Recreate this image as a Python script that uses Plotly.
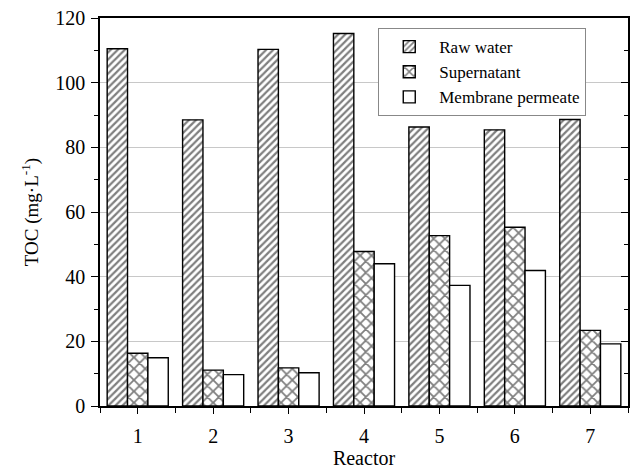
import plotly.graph_objects as go

reactors = [1, 2, 3, 4, 5, 6, 7]
raw_water = [110.5, 88.5, 110.3, 115.2, 86.3, 85.4, 88.6]
supernatant = [16.3, 11.1, 11.8, 47.8, 52.7, 55.3, 23.4]
membrane_permeate = [14.9, 9.7, 10.3, 44.0, 37.3, 41.9, 19.2]

font_family = "Liberation Serif"

fig = go.Figure()
fig.add_trace(go.Bar(
    x=reactors, y=raw_water, name="Raw water",
    marker=dict(color="white", line=dict(color="black", width=1.4),
                pattern=dict(shape="/", fgcolor="black", bgcolor="white", size=5, solidity=0.45)),
))
fig.add_trace(go.Bar(
    x=reactors, y=supernatant, name="Supernatant",
    marker=dict(color="white", line=dict(color="black", width=1.4),
                pattern=dict(shape="x", fgcolor="black", bgcolor="white", size=8, solidity=0.4)),
))
fig.add_trace(go.Bar(
    x=reactors, y=membrane_permeate, name="Membrane permeate",
    marker=dict(color="white", line=dict(color="black", width=1.4)),
))
# invisible trace on the right axis for inward mirror ticks
fig.add_trace(go.Scatter(x=[reactors[0]], y=[raw_water[0]], yaxis="y2",
                         mode="markers", marker=dict(opacity=0), showlegend=False,
                         hoverinfo="skip"))

fig.update_layout(
    width=630, height=469,
    margin=dict(l=100, r=2, t=18, b=63, autoexpand=False),
    paper_bgcolor="white", plot_bgcolor="white",
    barmode="group", bargap=0.19, bargroupgap=0,
    font=dict(family=font_family, size=20, color="black"),
    xaxis=dict(
        range=[0.5, 7.5], tickvals=reactors, ticktext=[str(r) for r in reactors],
        showgrid=False, zeroline=False, automargin=False,
        showline=True, linecolor="black", linewidth=1.5, mirror=True,
        ticks="outside", ticklen=6, tickwidth=1.3, tickcolor="black",
        minor=dict(tick0=0.5, dtick=1, ticks="outside", ticklen=5, tickwidth=1.3, tickcolor="black"),
        title=dict(text="Reactor", font=dict(family=font_family, size=20), standoff=4),
        tickfont=dict(family=font_family, size=20), ticklabelstandoff=5,
    ),
    yaxis=dict(
        range=[0, 120], dtick=20, showgrid=True, gridcolor="#c8c8c8", gridwidth=1,
        zeroline=False, automargin=False,
        showline=True, linecolor="black", linewidth=1.5, mirror=True,
        ticks="outside", ticklen=7, tickwidth=1.3, tickcolor="black",
        minor=dict(dtick=10, ticks="outside", ticklen=4, tickwidth=1.3, tickcolor="black", showgrid=False),
        title=dict(text="TOC (mg·L<sup>-1</sup>)", font=dict(family=font_family, size=19), standoff=12),
        tickfont=dict(family=font_family, size=20), ticklabelstandoff=2,
    ),
    yaxis2=dict(
        overlaying="y", side="right", range=[0, 120], dtick=20, automargin=False,
        showgrid=False, zeroline=False, showticklabels=False,
        ticks="inside", ticklen=7, tickwidth=1.3, tickcolor="black",
        minor=dict(dtick=10, ticks="inside", ticklen=4, tickwidth=1.3, tickcolor="black"),
    ),
    legend=dict(
        x=0.527, y=0.974, xanchor="left", yanchor="top",
        bgcolor="white", bordercolor="#888888", borderwidth=1,
        font=dict(family=font_family, size=17, color="black"),
        tracegroupgap=0, itemwidth=50,
    ),
)

fig.write_html("out.html", config={"displayModeBar": False},
               post_script="document.body.style.margin='0';")
